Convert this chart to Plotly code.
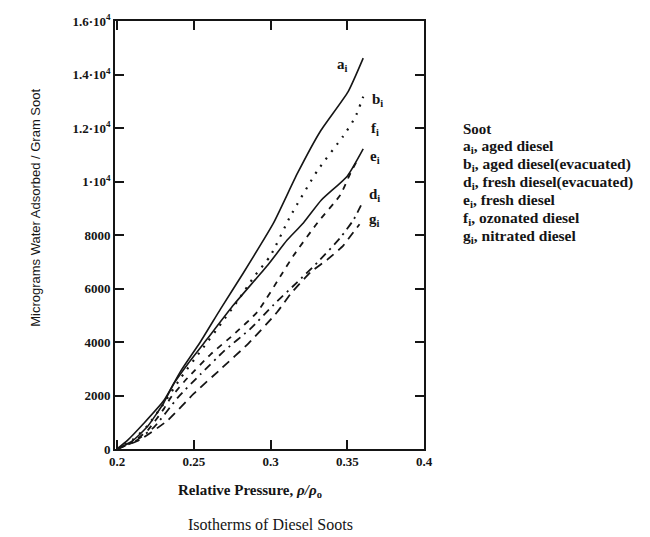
import plotly.graph_objects as go

# ---- data ----
a_x = [0.2, 0.207, 0.2175, 0.2305, 0.2416, 0.2545, 0.2675, 0.2825, 0.302, 0.3175, 0.3325, 0.3506, 0.3604]
a_y = [0, 330, 960, 1810, 2920, 4020, 5240, 6600, 8450, 10300, 11880, 13360, 14610]

b_x = [0.2, 0.21, 0.22, 0.2305, 0.242, 0.255, 0.268, 0.28, 0.289, 0.300, 0.313, 0.3305, 0.3474, 0.3552, 0.3604]
b_y = [0, 330, 880, 1700, 2700, 3700, 4700, 5650, 6420, 7230, 8710, 10400, 11700, 12400, 13170]

e_x = [0.2, 0.21, 0.22, 0.2305, 0.237, 0.246, 0.259, 0.276, 0.298, 0.311, 0.3214, 0.333, 0.350, 0.3604]
e_y = [0, 300, 850, 1730, 2440, 3170, 4130, 5390, 6860, 7820, 8450, 9300, 10200, 11220]

f_x = [0.2, 0.21, 0.22, 0.2305, 0.235, 0.246, 0.261, 0.276, 0.2915, 0.308, 0.315, 0.3305, 0.3455, 0.352, 0.3575]
f_y = [0, 250, 700, 1500, 1920, 2660, 3540, 4280, 5130, 6600, 7230, 8450, 9500, 10300, 10900]

d_x = [0.2, 0.212, 0.224, 0.2396, 0.2545, 0.2695, 0.287, 0.302, 0.3175, 0.3305, 0.3455, 0.354, 0.3597]
d_y = [0, 300, 810, 1920, 2800, 3650, 4500, 5390, 6240, 6970, 7900, 8560, 9190]

g_x = [0.2, 0.215, 0.233, 0.25, 0.268, 0.2857, 0.3045, 0.313, 0.326, 0.337, 0.3474, 0.3506, 0.358]
g_y = [0, 350, 1070, 2070, 3010, 3950, 5130, 5790, 6600, 7080, 7600, 7850, 8400]

series_names = ["a", "b", "e", "f", "d", "g"]
curve_labels = ["a<sub>i</sub>", "b<sub>i</sub>", "e<sub>i</sub>", "f<sub>i</sub>", "d<sub>i</sub>", "g<sub>i</sub>"]
label_x = [0.3468, 0.3695, 0.368, 0.368, 0.368, 0.368]
label_y = [14350, 13060, 10920, 11960, 9480, 8560]

y_tickvals = [0, 2000, 4000, 6000, 8000, 10000, 12000, 14000, 16000]
y_ticktext = ["0", "2000", "4000", "6000", "8000", "1·10<sup>4</sup>", "1.2·10<sup>4</sup>",
              "1.4·10<sup>4</sup>", "1.6·10<sup>4</sup>"]
x_tickvals = [0.2, 0.25, 0.3, 0.35, 0.4]
x_ticktext = ["0.2", "0.25", "0.3", "0.35", "0.4"]

legend_title = "Soot"
legend_lines = ["a<sub>i</sub>, aged diesel",
                "b<sub>i</sub>, aged diesel(evacuated)",
                "d<sub>i</sub>, fresh diesel(evacuated)",
                "e<sub>i</sub>, fresh diesel",
                "f<sub>i</sub>, ozonated diesel",
                "g<sub>i</sub>, nitrated diesel"]

# ---- figure ----
INK = "#151515"
SERIF = "Liberation Serif, Times New Roman, serif"
styles = {
    "a": dict(dash="solid", width=1.6),
    "b": dict(dash="2px,7px", width=2.2),
    "e": dict(dash="solid", width=1.6),
    "f": dict(dash="6px,6px", width=1.8),
    "d": dict(dash="8px,5px,2px,5px", width=1.8),
    "g": dict(dash="9px,6px", width=1.8),
}
data = {"a": (a_x, a_y), "b": (b_x, b_y), "e": (e_x, e_y),
        "f": (f_x, f_y), "d": (d_x, d_y), "g": (g_x, g_y)}

fig = go.Figure()
for name in series_names:
    xs, ys = data[name]
    st = styles[name]
    fig.add_trace(go.Scatter(x=xs, y=ys, mode="lines", name=name,
                             line=dict(color=INK, width=st["width"], dash=st["dash"],
                                       shape="spline", smoothing=0.5),
                             showlegend=False))

for txt, lx, ly in zip(curve_labels, label_x, label_y):
    fig.add_annotation(x=lx, y=ly, xref="x", yref="y", text="<b>" + txt + "</b>",
                       xanchor="center", yanchor="middle",
                       showarrow=False, font=dict(family=SERIF, size=15, color=INK))

L, R, T, B = 115, 424, 16, 449
W, H = 650, 537

def px(xp):
    return (xp - L) / (R - L)

def py(yp):
    return (B - yp) / (B - T)

fig.add_annotation(x=px(461), y=py(125), xref="paper", yref="paper", xanchor="left", yanchor="middle",
                   text="<b>" + legend_title + "</b>", showarrow=False,
                   font=dict(family=SERIF, size=15, color=INK))
for i, line in enumerate(legend_lines):
    fig.add_annotation(x=px(461), y=py(143 + i * 18.2), xref="paper", yref="paper",
                       xanchor="left", yanchor="middle",
                       text="<b>" + line + "</b>", showarrow=False,
                       font=dict(family=SERIF, size=15.5, color=INK))

# axis titles and caption
fig.add_annotation(x=px(36), y=py(205), xref="paper", yref="paper", textangle=-90,
                   xanchor="center", yanchor="middle",
                   text="Micrograms Water Adsorbed / Gram Soot", showarrow=False,
                   font=dict(family="Liberation Sans Narrow, Liberation Sans, Arial, sans-serif", size=13, color=INK))
fig.add_annotation(x=px(250), y=py(491), xref="paper", yref="paper",
                   xanchor="center", yanchor="middle",
                   text="<b>Relative Pressure, <i>ρ/ρ</i><sub>o</sub></b>", showarrow=False,
                   font=dict(family=SERIF, size=15, color=INK))
fig.add_annotation(x=px(270), y=py(525), xref="paper", yref="paper",
                   xanchor="center", yanchor="middle",
                   text="Isotherms of Diesel Soots", showarrow=False,
                   font=dict(family=SERIF, size=16, color=INK))

fig.update_layout(
    width=W, height=H,
    margin=dict(l=L, r=W - R, t=T, b=H - B),
    paper_bgcolor="white", plot_bgcolor="white",
    xaxis=dict(range=[0.1987, 0.4], tickvals=x_tickvals, ticktext=["<b>" + t + "</b>" for t in x_ticktext],
               showgrid=False, zeroline=False, showline=True, linecolor=INK, linewidth=1.6,
               mirror="ticks", ticks="inside", ticklen=9, tickwidth=1.5, tickcolor=INK,
               tickfont=dict(family=SERIF, size=13, color=INK)),
    yaxis=dict(range=[0, 16000], tickvals=y_tickvals, ticktext=["<b>" + t + "</b>" for t in y_ticktext],
               showgrid=False, zeroline=False, showline=True, linecolor=INK, linewidth=1.6,
               mirror="ticks", ticks="inside", ticklen=9, tickwidth=1.5, tickcolor=INK,
               tickfont=dict(family=SERIF, size=13, color=INK)),
)

fig.write_html("out.html", config={"displayModeBar": False},
               post_script="document.body.style.margin='0px';")
